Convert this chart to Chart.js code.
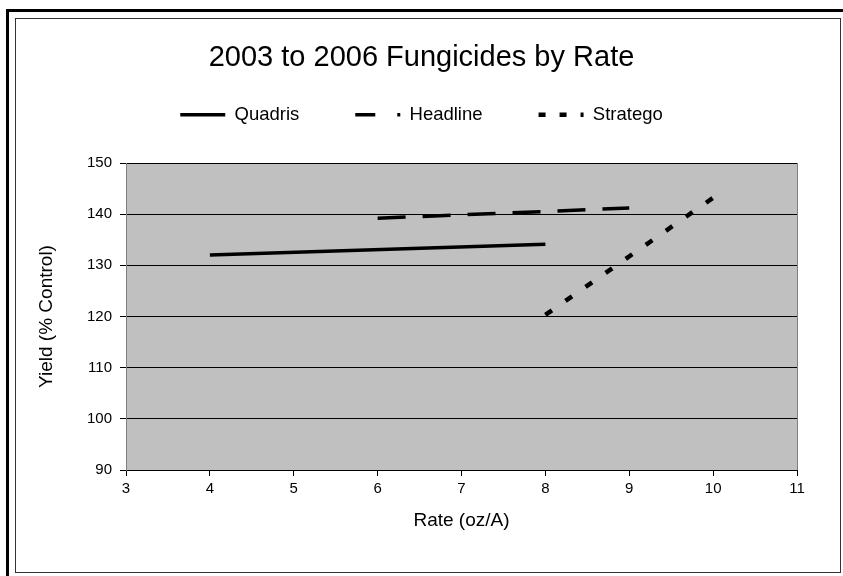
<!DOCTYPE html>
<html><head><meta charset="utf-8">
<script src="https://cdn.jsdelivr.net/npm/chart.js@4.4.1/dist/chart.umd.min.js"></script>
<style>
html,body{margin:0;padding:0;background:#fff;overflow:hidden}
#wrap{position:absolute;left:0;top:0;width:843px;height:576px}
#outer{position:absolute;left:6px;top:9px;width:850px;height:580px;border-left:3px solid #000;border-top:3px solid #000;pointer-events:none}
#inner{position:absolute;left:15px;top:18px;width:824px;height:553px;border:1px solid #333;pointer-events:none}
</style></head>
<body>
<div id="wrap"><canvas id="c" width="843" height="576"></canvas></div>
<div id="outer"></div><div id="inner"></div>
<script>
const seriesNames = ['Quadris', 'Headline', 'Stratego'];
const quadrisX = [4, 8];
const quadrisY = [132.0, 134.1];
const headlineX = [6, 9];
const headlineY = [139.2, 141.2];
const strategoX = [8, 10];
const strategoY = [120.3, 143.2];
const xTicks = [3, 4, 5, 6, 7, 8, 9, 10, 11];
const yTicks = [90, 100, 110, 120, 130, 140, 150];
const legendDashes = [[], [20, 22], [7, 14]];

function pts(xs, ys) { return xs.map((x, i) => ({x: x, y: ys[i]})); }

Chart.defaults.font.family = "'Liberation Sans', Arial, sans-serif";
Chart.defaults.color = '#000';

const plotBg = {
  id: 'plotBg',
  beforeLayout(chart) {
    const leg = chart.legend;
    if (leg && !leg._patched) {
      const f = leg.fit;
      leg.fit = function () { f.call(this); this.height = 113.6; };
      leg._patched = true;
    }
  },
  beforeDraw(chart) {
    const a = chart.chartArea, ctx = chart.ctx;
    ctx.save();
    ctx.fillStyle = '#c0c0c0';
    ctx.fillRect(a.left, a.top, a.right - a.left, a.bottom - a.top);
    ctx.strokeStyle = '#808080';
    ctx.lineWidth = 1;
    ctx.beginPath();
    ctx.moveTo(a.right + 0.5, a.top);
    ctx.lineTo(a.right + 0.5, a.bottom);
    ctx.stroke();
    ctx.restore();
  }
};

new Chart(document.getElementById('c'), {
  type: 'line',
  data: {
    datasets: [
      {label: seriesNames[0], data: pts(quadrisX, quadrisY), borderColor: '#000', backgroundColor: '#000', borderWidth: 3.5, pointRadius: 0},
      {label: seriesNames[1], data: pts(headlineX, headlineY), borderColor: '#000', backgroundColor: '#000', borderWidth: 3.5, borderDash: [28, 17], pointRadius: 0},
      {label: seriesNames[2], data: pts(strategoX, strategoY), borderColor: '#000', backgroundColor: '#000', borderWidth: 4.5, borderDash: [8, 16.5], pointRadius: 0}
    ]
  },
  options: {
    responsive: false,
    animation: false,
    devicePixelRatio: 1,
    layout: {padding: {left: 0, right: 0, top: 0, bottom: 26}},
    plugins: {
      title: {display: true, text: '2003 to 2006 Fungicides by Rate', font: {size: 29, weight: 'normal'}, color: '#000', padding: {top: 40.6, bottom: -26}},
      legend: {
        display: true, position: 'top',
        labels: {
          usePointStyle: true, pointStyle: 'line', pointStyleWidth: 45, padding: 56, color: '#000', font: {size: 18.5},
          generateLabels(chart) {
            const items = Chart.defaults.plugins.legend.labels.generateLabels(chart);
            return items.map(it => {
              const ds = chart.data.datasets[it.datasetIndex];
              it.lineDash = legendDashes[it.datasetIndex];
              it.lineWidth = ds.borderWidth;
              it.strokeStyle = '#000';
              it.fillStyle = '#000';
              it.pointStyle = 'line';
              return it;
            });
          }
        }
      },
      tooltip: {enabled: false}
    },
    scales: {
      x: {
        type: 'linear', min: 3, max: 11,
        afterBuildTicks(s) { s.ticks = xTicks.map(v => ({value: v})); },
        afterFit(s) { s.height = 80; },
        ticks: {font: {size: 15}, color: '#000', padding: 4, maxRotation: 0},
        grid: {drawOnChartArea: false, drawTicks: true, tickLength: 6, color: '#000'},
        border: {display: true, color: '#000', width: 1},
        title: {display: true, text: 'Rate (oz/A)', font: {size: 19}, color: '#000', padding: {top: 4, bottom: 18}}
      },
      y: {
        type: 'linear', min: 90, max: 150,
        afterBuildTicks(s) { s.ticks = yTicks.map(v => ({value: v})); },
        afterFit(s) { s.width = 126; },
        ticks: {font: {size: 15}, color: '#000', padding: 8},
        grid: {color: '#000', lineWidth: 1, drawTicks: true, tickLength: 6},
        border: {display: true, color: '#808080', width: 1},
        title: {display: true, text: 'Yield (% Control)', font: {size: 19}, color: '#000', padding: {top: 35, bottom: 0}}
      },
      yRight: {
        type: 'linear', position: 'right', display: true,
        afterFit(s) { s.width = 46; },
        ticks: {display: false},
        grid: {display: false, drawTicks: false},
        border: {display: false}
      }
    }
  },
  plugins: [plotBg]
});
</script>
</body></html>
